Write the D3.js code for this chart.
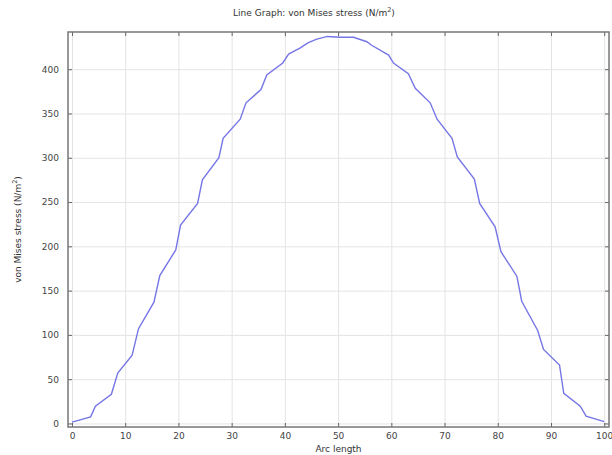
<!DOCTYPE html>
<html>
<head>
    <script src="https://d3js.org/d3.v7.min.js"></script>
    <style>
        body { margin: 0; background: #fff; }
        .tick text { font-family: "DejaVu Sans", sans-serif; font-size: 9px; fill: #444; }
        .grid line { stroke: #e4e4e4; stroke-width: 1; }
        .grid path { display: none; }
        .lbl { font-family: "DejaVu Sans", sans-serif; font-size: 9px; fill: #333; }
    </style>
</head>
<body>
<script>
    // values
    var arcLength = [0, 3.5, 4.4, 7.4, 8.6, 11.3, 12.5, 15.4, 16.5, 19.5,
                     20.4, 23.6, 24.5, 27.6, 28.4, 31.6, 32.7, 35.5, 36.6, 39.6,
                     40.7, 42.9, 44.4, 46, 48, 50.4, 52.9, 55.4, 56.3, 59.5,
                     60.4, 63.2, 64.5, 67.3, 68.6, 71.4, 72.4, 75.6, 76.6, 79.5,
                     80.6, 83.6, 84.5, 87.5, 88.6, 91.6, 92.4, 95.5, 96.6, 100];
    var stress = [1.5, 7.5, 19.5, 33, 57, 77, 107, 137, 167, 196,
                  224, 248.5, 275, 300, 322, 343.5, 362, 377, 393.5, 407,
                  417, 424, 430, 434, 437, 436, 436, 431, 427, 416,
                  407, 395, 378.5, 362, 343.5, 322, 301, 276, 248.5, 222,
                  194, 166, 138, 105, 83.6, 66, 34, 19.5, 8.2, 2];
    var xTicks = [0, 10, 20, 30, 40, 50, 60, 70, 80, 90, 100];
    var yTicks = [0, 50, 100, 150, 200, 250, 300, 350, 400];

    var margin = {top: 32, right: 3, bottom: 28, left: 68},
        width = 612 - margin.left - margin.right,
        height = 455 - margin.top - margin.bottom;

    var x = d3.scaleLinear().domain([-0.75, 100.9]).range([0, width]);
    var y = d3.scaleLinear().domain([-4, 442]).range([height, 0]);

    var root = d3.select("body").append("svg")
        .attr("width", 612)
        .attr("height", 455);
    var svg = root.append("g")
        .attr("transform", "translate(" + margin.left + "," + margin.top + ")");

    // grid
    svg.append("g").attr("class", "grid")
        .attr("transform", "translate(0," + height + ")")
        .call(d3.axisBottom(x).tickValues(xTicks).tickSize(-height).tickFormat(""));
    svg.append("g").attr("class", "grid")
        .call(d3.axisLeft(y).tickValues(yTicks).tickSize(-width).tickFormat(""));

    // line
    var pts = arcLength.map(function(d, i) { return [d, stress[i]]; });
    svg.append("path")
        .datum(pts)
        .attr("fill", "none")
        .attr("stroke", "#7676e6")
        .attr("stroke-width", 1.4)
        .attr("d", d3.line().x(function(d) { return x(d[0]); }).y(function(d) { return y(d[1]); }));

    // axes with inward ticks
    function styleAxis(g) {
        g.select(".domain").remove();
        g.selectAll(".tick line").attr("stroke", "#666");
    }
    svg.append("g")
        .attr("transform", "translate(0," + height + ")")
        .call(d3.axisBottom(x).tickValues(xTicks).tickSizeInner(-4).tickSizeOuter(0).tickPadding(6))
        .call(styleAxis);
    svg.append("g")
        .call(d3.axisTop(x).tickValues(xTicks).tickSizeInner(-4).tickSizeOuter(0).tickFormat(""))
        .call(styleAxis);
    svg.append("g")
        .call(d3.axisLeft(y).tickValues(yTicks).tickSizeInner(-4).tickSizeOuter(0).tickPadding(9))
        .call(styleAxis);
    svg.append("g")
        .attr("transform", "translate(" + width + ",0)")
        .call(d3.axisRight(y).tickValues(yTicks).tickSizeInner(-4).tickSizeOuter(0).tickFormat(""))
        .call(styleAxis);

    // frame
    svg.append("rect")
        .attr("width", width).attr("height", height)
        .attr("fill", "none").attr("stroke", "#777").attr("stroke-width", 1.5);

    // title
    var t = root.append("text").attr("class", "lbl")
        .attr("x", 314).attr("y", 16).style("text-anchor", "middle");
    t.append("tspan").text("Line Graph: von Mises stress (N/m");
    t.append("tspan").attr("baseline-shift", "super").style("font-size", "6.5px").text("2");
    t.append("tspan").text(")");

    // x label
    svg.append("text").attr("class", "lbl")
        .attr("x", width / 2).attr("y", height + 25)
        .style("text-anchor", "middle")
        .text("Arc length");

    // y label
    var yl = svg.append("text").attr("class", "lbl")
        .attr("transform", "rotate(-90)")
        .attr("x", -height / 2).attr("y", -47)
        .style("text-anchor", "middle");
    yl.append("tspan").text("von Mises stress (N/m");
    yl.append("tspan").attr("baseline-shift", "super").style("font-size", "6.5px").text("2");
    yl.append("tspan").text(")");
</script>
</body>
</html>
